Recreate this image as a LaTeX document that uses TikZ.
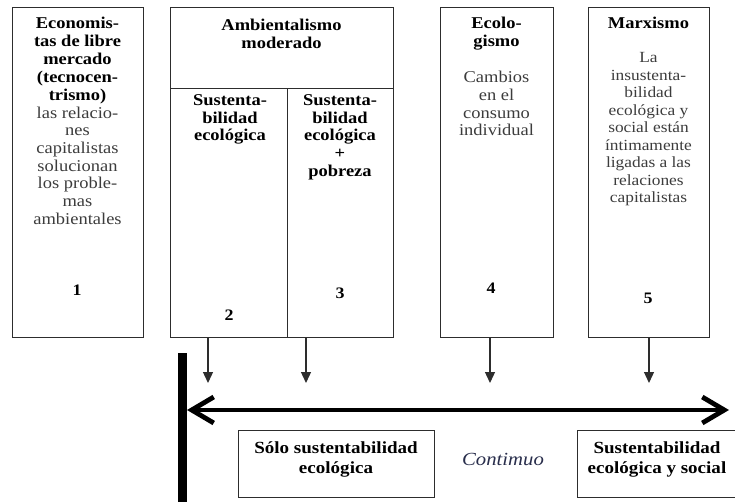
\documentclass[tikz,border=0pt]{standalone}
\usepackage{fontspec}
\setmainfont{Liberation Serif}[FakeStretch=1.12]
\usetikzlibrary{arrows.meta}
\definecolor{bodygray}{RGB}{60,60,60}
\definecolor{linegray}{RGB}{45,45,45}
\definecolor{contblue}{RGB}{40,45,75}
\tikzset{
  boxn/.style={draw=linegray, line width=1.1pt, rectangle, inner sep=0pt},
  ttl/.style={font=\fontsize{16.5}{17.9}\selectfont\bfseries, align=center, inner sep=0pt, anchor=north},
  bdy/.style={font=\fontsize{16.5}{17.7}\selectfont, text=bodygray, align=center, inner sep=0pt, anchor=north},
  num/.style={font=\fontsize{16}{17.9}\selectfont\bfseries, inner sep=0pt},
  down/.style={draw=linegray, line width=1.3pt, -{Triangle[length=11pt,width=10pt]}},
  dbl/.style={line width=4.8pt, {Straight Barb[length=22pt,width=26pt]}-{Straight Barb[length=22pt,width=26pt]}},
  btxt/.style={font=\fontsize{17}{20}\selectfont\bfseries, align=center, inner sep=0pt},
}
\begin{document}
\begin{tikzpicture}[x=1pt,y=-1pt]
\useasboundingbox (0,0) rectangle (735,502);
\clip (0,0) rectangle (735,502);
% boxes
\node[boxn, minimum width=131pt, minimum height=330pt, anchor=north west] (b1) at (12,7) {};
\node[boxn, minimum width=223pt, minimum height=81pt, anchor=north west] (b2top) at (170,7) {};
\node[boxn, minimum width=117pt, minimum height=249pt, anchor=north west] (b2) at (170,88) {};
\node[boxn, minimum width=106pt, minimum height=249pt, anchor=north west] (b3) at (287,88) {};
\node[boxn, minimum width=113pt, minimum height=330pt, anchor=north west] (b4) at (440,7) {};
\node[boxn, minimum width=121pt, minimum height=330pt, anchor=north west] (b5) at (588,7) {};
% texts
\node[ttl] (t1) at (77.5,17) {Economis-\\tas de libre\\mercado\\(tecnocen-\\trismo)};
\node[bdy] (d1) at (77.5,106.5) {las relacio-\\nes\\capitalistas\\solucionan\\los proble-\\mas\\ambientales};
\node[ttl] (t2top) at (281.5,19) {Ambientalismo\\moderado};
\node[ttl] (t2) at (230,94) {Sustenta-\\bilidad\\ecológica};
\node[ttl] (t3) at (340,94) {Sustenta-\\bilidad\\ecológica\\+\\pobreza};
\node[ttl] (t4) at (496.5,17) {Ecolo-\\gismo};
\node[bdy] (d4) at (496.5,71) {Cambios\\en el\\consumo\\individual};
\node[ttl] (t5) at (648.5,17) {Marxismo};
\node[bdy, font=\fontsize{15.5}{17.5}\selectfont] (d5) at (648.5,52.5) {La\\insustenta-\\bilidad\\ecológica y\\social están\\íntimamente\\ligadas a las\\relaciones\\capitalistas};
\node[num] (n1) at (77,290) {1};
\node[num] (n2) at (229,315) {2};
\node[num] (n3) at (340,293) {3};
\node[num] (n4) at (491,288) {4};
\node[num] (n5) at (648,298) {5};
% arrows down
\coordinate (a2) at (208,383);
\coordinate (a3) at (306,383);
\coordinate (a4) at (490,383);
\coordinate (a5) at (649,383);
\draw[down] (a2 |- b2.south) -- (a2);
\draw[down] (a3 |- b3.south) -- (a3);
\draw[down] (a4 |- b4.south) -- (a4);
\draw[down] (a5 |- b5.south) -- (a5);
% bar and continuum
\node[fill=black, inner sep=0pt, minimum width=9pt, minimum height=152pt, anchor=north] (bar) at (182.5,353) {};
\coordinate (cl) at (187,410);
\coordinate (cr) at (729,410);
\draw[dbl] (cl) -- (cr);
\node[boxn, minimum width=196pt, minimum height=67pt, anchor=north west] (s1) at (238,430) {};
\node[btxt] (s1t) at (336,459) {Sólo sustentabilidad\\ecológica};
\node[inner sep=0pt, text=contblue, font=\fontsize{18.5}{20}\selectfont\itshape] (cont) at (503,459) {Contimuo};
\node[boxn, minimum width=175pt, minimum height=67pt, anchor=north west] (s2) at (577,430) {};
\node[btxt] (s2t) at (657,459) {Sustentabilidad\\ecológica y social};
\end{tikzpicture}
\end{document}
